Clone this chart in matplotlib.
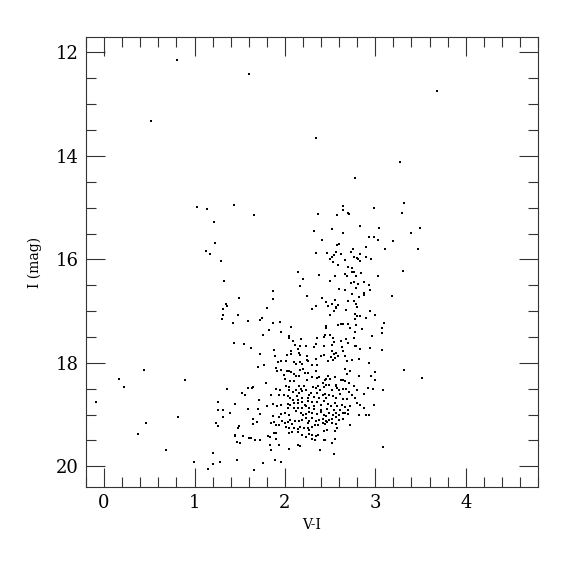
import matplotlib
matplotlib.use("Agg")
import matplotlib.pyplot as plt
from matplotlib.ticker import MultipleLocator

# colour (V-I) and magnitude (I) of each star
vi_bright = [0.81, 0.515, 1.60, 2.34, 2.78, 3.68, 3.27]
i_bright = [12.15, 13.33, 12.41, 13.66, 14.42, 12.74, 14.12]

# blue branch (upper left)
vi_blue = [1.03, 1.14, 1.44, 1.215, 1.23, 1.13, 1.17, 1.29, 1.33, 1.35, 1.36, 1.32, 1.31, 1.30, 1.43]
i_blue = [14.99, 15.02, 14.95, 15.27, 15.69, 15.84, 15.90, 16.04, 16.41, 16.87, 16.91, 16.95, 17.08, 17.15, 17.22]

# giant branch, middle region
vi_giant = [1.66, 2.64, 2.64, 2.99, 2.37, 2.58, 2.70, 2.71, 2.52, 2.32, 2.64, 2.83, 3.04, 2.41,
            2.93, 2.99, 3.03, 2.60, 2.58, 2.75, 2.90, 3.11, 2.34, 2.47, 2.54, 2.57, 2.62, 2.73,
            2.83, 2.52, 2.50, 2.76, 2.80, 2.81, 2.90, 2.95, 2.53, 2.66, 2.83, 2.59, 2.70, 2.74,
            2.14, 2.20, 2.17, 2.38, 2.55, 2.67, 2.69, 2.74, 2.76, 2.79, 2.84, 3.03, 2.50, 2.73,
            2.76, 2.81, 2.88, 2.93, 2.79, 2.94, 2.60, 2.67, 2.24, 2.74, 2.87, 2.87, 2.82, 1.87,
            1.87, 1.49, 2.41, 2.55, 2.46, 2.52, 2.59, 2.70, 2.76, 2.79, 2.48, 2.56, 2.57, 2.34,
            2.30, 1.80, 2.80, 2.54, 2.68, 2.50, 2.77, 2.80, 2.83, 2.94, 3.00, 1.48, 1.59, 1.72,
            1.75, 1.87, 1.95, 2.07, 1.82, 1.96, 2.90, 2.62, 2.64, 2.70, 2.59, 2.77, 2.79, 2.46,
            2.45, 2.72, 2.85, 3.10, 3.07, 3.07, 2.77, 1.76, 2.04, 2.44, 2.50, 2.96,
            3.32, 3.30, 3.49, 3.39, 3.20, 3.47, 3.31, 3.19]
i_giant = [15.15, 14.96, 15.04, 15.00, 15.12, 15.14, 15.11, 15.12, 15.41, 15.45, 15.48, 15.36, 15.40, 15.63,
           15.56, 15.56, 15.63, 15.70, 15.73, 15.79, 15.76, 15.79, 15.87, 15.88, 15.91, 15.86, 15.89, 15.86,
           15.90, 15.96, 16.00, 15.96, 15.97, 15.99, 15.96, 16.00, 16.05, 16.02, 16.04, 16.11, 16.14, 16.17,
           16.24, 16.38, 16.52, 16.30, 16.33, 16.28, 16.33, 16.25, 16.24, 16.32, 16.26, 16.33, 16.41, 16.46,
           16.43, 16.47, 16.43, 16.49, 16.56, 16.59, 16.57, 16.60, 16.70, 16.66, 16.65, 16.69, 16.73, 16.61,
           16.77, 16.75, 16.75, 16.78, 16.83, 16.86, 16.88, 16.80, 16.81, 16.86, 16.91, 16.92, 16.94, 16.91,
           16.95, 16.94, 16.92, 16.99, 16.97, 17.07, 17.06, 17.09, 17.10, 17.00, 17.07, 17.07, 17.20, 17.18,
           17.14, 17.23, 17.21, 17.30, 17.36, 17.40, 17.13, 17.24, 17.24, 17.24, 17.27, 17.15, 17.26, 17.29,
           17.33, 17.32, 17.34, 17.23, 17.33, 17.42, 17.41, 17.47, 17.48, 17.47, 17.47, 17.48,
           14.90, 15.11, 15.40, 15.48, 15.64, 15.80, 16.22, 16.70]

# faint stars on the left and lower left
vi_left = [1.44, 0.44, 0.17, 0.22, 0.89, -0.09, 1.36, 1.26, 1.45, 1.26, 1.32, 1.39, 1.31, 0.82,
           1.24, 1.26, 0.46, 0.38, 1.45, 0.69, 1.21, 0.99, 1.28, 1.20, 1.15, 3.32, 3.52]
i_left = [17.62, 18.14, 18.32, 18.47, 18.34, 18.76, 18.51, 18.76, 18.80, 18.91, 18.91, 18.96, 19.05, 19.04,
          19.17, 19.22, 19.17, 19.38, 19.42, 19.68, 19.74, 19.91, 19.91, 19.96, 20.05, 18.13, 18.29]

# main clump, upper left quarter
vi_c1 = [1.55, 1.62, 1.72, 1.88, 1.89, 2.05, 2.09, 2.18, 2.11, 2.14, 2.17, 2.23, 2.02, 2.07, 2.07,
         2.16, 2.17, 2.24, 1.96, 1.92, 2.01, 2.10, 2.12, 2.17, 2.19, 2.24, 2.26, 1.70, 1.77, 1.90,
         1.91, 1.96, 2.02, 2.04, 2.07, 2.10, 2.17, 2.20, 2.22, 2.26, 1.99, 2.00, 2.12, 2.16, 2.24,
         2.06, 2.10, 1.79, 1.59, 1.64, 1.65, 1.90, 1.95, 2.01, 2.04, 2.05, 2.09, 2.12, 2.16, 2.18,
         2.21, 2.23, 2.19, 2.16, 1.52, 1.56, 1.85, 1.94, 1.99, 2.03, 2.06, 2.09, 2.13, 2.14, 2.19,
         2.25, 2.27, 1.71, 1.87, 1.91, 1.96, 2.03, 2.06, 2.10, 2.15, 2.19, 2.22, 2.26, 1.80, 1.59,
         1.70, 2.03, 2.10, 2.14, 2.19, 2.23, 2.27]
i_c1 = [17.64, 17.72, 17.82, 17.75, 17.87, 17.51, 17.57, 17.53, 17.65, 17.73, 17.68, 17.67, 17.85, 17.82, 17.77,
        17.80, 17.84, 17.86, 17.96, 17.98, 17.97, 17.99, 18.02, 17.99, 18.02, 17.94, 17.96, 18.08, 18.04, 18.09,
        18.16, 18.13, 18.16, 18.15, 18.18, 18.21, 18.14, 18.11, 18.20, 18.20, 18.23, 18.31, 18.25, 18.26, 18.33,
        18.35, 18.36, 18.39, 18.49, 18.48, 18.47, 18.51, 18.52, 18.45, 18.47, 18.53, 18.57, 18.52, 18.44, 18.50,
        18.45, 18.53, 18.55, 18.58, 18.58, 18.62, 18.63, 18.62, 18.63, 18.65, 18.67, 18.71, 18.65, 18.72, 18.68,
        18.68, 18.63, 18.72, 18.80, 18.84, 18.82, 18.79, 18.81, 18.78, 18.78, 18.76, 18.81, 18.73, 18.84, 18.89,
        18.89, 18.88, 18.87, 18.87, 18.87, 18.84, 18.87]

# main clump, upper right quarter
vi_c2 = [2.35, 2.43, 2.53, 2.62, 2.68, 2.70, 2.76, 2.34, 2.32, 2.43, 2.52, 2.54, 2.63, 2.77, 2.79,
         2.83, 2.94, 3.07, 2.52, 2.54, 2.57, 2.59, 2.64, 2.67, 2.69, 2.51, 2.53, 2.55, 2.475, 2.43,
         2.40, 2.34, 2.30, 2.35, 2.74, 2.82, 2.93, 3.00, 2.34, 2.66, 2.69, 2.72, 2.82, 2.95, 2.30,
         2.35, 2.38, 2.45, 2.48, 2.42, 2.44, 2.50, 2.55, 2.57, 2.62, 2.64, 2.67, 2.71, 2.76, 2.80,
         2.92, 3.00, 3.08, 2.31, 2.34, 2.37, 2.39, 2.43, 2.45, 2.49, 2.52, 2.56, 2.58, 2.60, 2.64,
         2.68, 2.71, 2.74, 2.87, 2.97, 2.29, 2.32, 2.36, 2.38, 2.42, 2.44, 2.46, 2.49, 2.53, 2.57,
         2.61, 2.64, 2.69, 2.77, 2.80, 2.99, 2.30, 2.32, 2.36, 2.40, 2.43, 2.48, 2.51, 2.55, 2.58,
         2.63, 2.67, 2.72, 2.83, 2.88, 2.32, 2.40, 2.47, 2.54, 2.61, 2.70]
i_c2 = [17.51, 17.50, 17.51, 17.58, 17.54, 17.62, 17.52, 17.63, 17.70, 17.68, 17.66, 17.60, 17.69, 17.68, 17.67,
        17.73, 17.72, 17.76, 17.78, 17.82, 17.80, 17.86, 17.78, 17.87, 17.97, 17.89, 17.94, 17.91, 17.96, 17.85,
        17.87, 17.92, 18.05, 18.04, 17.94, 17.93, 18.00, 18.18, 18.16, 18.12, 18.21, 18.16, 18.25, 18.26, 18.27,
        18.29, 18.27, 18.31, 18.26, 18.38, 18.33, 18.31, 18.27, 18.42, 18.34, 18.33, 18.36, 18.39, 18.45, 18.53,
        18.48, 18.33, 18.52, 18.47, 18.49, 18.45, 18.52, 18.47, 18.43, 18.43, 18.52, 18.45, 18.49, 18.52, 18.51,
        18.51, 18.56, 18.62, 18.61, 18.50, 18.58, 18.66, 18.58, 18.68, 18.63, 18.60, 18.67, 18.62, 18.65, 18.67,
        18.60, 18.70, 18.69, 18.68, 18.78, 18.81, 18.76, 18.83, 18.76, 18.81, 18.74, 18.79, 18.84, 18.78, 18.84,
        18.81, 18.85, 18.84, 18.81, 18.87, 18.89, 18.91, 18.89, 18.91, 18.91, 18.91]

# main clump, lower left quarter
vi_c3 = [1.72, 1.87, 1.93, 1.96, 2.00, 2.04, 2.12, 2.18, 2.20, 2.23, 2.27, 1.65, 1.49, 1.48, 1.65,
         1.69, 1.85, 1.88, 1.90, 1.94, 1.97, 2.00, 2.03, 2.06, 2.08, 2.11, 2.16, 2.19, 2.23, 2.25,
         2.27, 2.01, 2.04, 2.10, 2.14, 2.17, 2.21, 2.25, 2.27, 2.04, 2.08, 2.15, 2.19, 2.23, 2.27,
         1.45, 1.54, 1.60, 1.62, 1.67, 1.72, 1.81, 1.83, 1.88, 1.90, 1.90, 1.94, 1.84, 1.85, 2.05,
         2.14, 2.17, 1.47, 1.50, 1.47, 1.76, 1.89, 1.96, 1.66]
i_c3 = [18.98, 19.02, 19.05, 18.99, 18.96, 19.00, 18.94, 18.96, 19.01, 18.98, 18.95, 19.09, 19.22, 19.25, 19.19,
        19.14, 19.17, 19.15, 19.21, 19.21, 19.13, 19.16, 19.14, 19.10, 19.18, 19.13, 19.13, 19.10, 19.07, 19.16,
        19.12, 19.23, 19.26, 19.25, 19.27, 19.23, 19.26, 19.25, 19.29, 19.36, 19.34, 19.34, 19.39, 19.44, 19.37,
        19.40, 19.41, 19.45, 19.45, 19.50, 19.49, 19.42, 19.44, 19.35, 19.35, 19.48, 19.58, 19.58, 19.68, 19.66,
        19.59, 19.61, 19.53, 19.55, 19.87, 19.93, 19.88, 19.91, 20.07]

# main clump, lower right quarter
vi_c4 = [2.30, 2.35, 2.40, 2.43, 2.46, 2.49, 2.53, 2.56, 2.60, 2.64, 2.67, 2.70, 2.82, 2.90, 2.93,
         2.30, 2.34, 2.38, 2.42, 2.45, 2.49, 2.52, 2.56, 2.60, 2.64, 2.30, 2.33, 2.37, 2.42, 2.44,
         2.47, 2.52, 2.56, 2.58, 2.72, 2.43, 2.47, 2.55, 2.30, 2.34, 2.37, 2.30, 2.33, 2.43, 2.44,
         2.55, 2.52, 3.08, 2.39, 2.54]
i_c4 = [18.96, 18.99, 18.95, 19.01, 19.03, 18.97, 19.00, 18.97, 19.01, 18.97, 18.96, 18.99, 19.01, 19.01, 19.00,
        19.07, 19.13, 19.10, 19.08, 19.12, 19.10, 19.08, 19.05, 19.10, 19.08, 19.23, 19.20, 19.21, 19.16, 19.18,
        19.14, 19.16, 19.19, 19.25, 19.21, 19.31, 19.29, 19.31, 19.40, 19.42, 19.39, 19.48, 19.49, 19.49, 19.50,
        19.47, 19.54, 19.63, 19.68, 19.77]

vi = vi_bright + vi_blue + vi_giant + vi_left + vi_c1 + vi_c2 + vi_c3 + vi_c4
mag = i_bright + i_blue + i_giant + i_left + i_c1 + i_c2 + i_c3 + i_c4

plt.rcParams['font.family'] = ['DejaVu Serif']

fig = plt.figure(figsize=(5.75, 5.75), dpi=100)
ax = fig.add_axes([0.1496, 0.153, 0.7861, 0.7827])

ax.plot(vi, mag, linestyle='none', marker='s', markersize=1.9, markeredgewidth=0, color='black')

ax.set_xlim(-0.2, 4.8)
ax.set_ylim(20.4, 11.7)

ax.xaxis.set_major_locator(MultipleLocator(1))
ax.xaxis.set_minor_locator(MultipleLocator(0.2))
ax.yaxis.set_major_locator(MultipleLocator(2))
ax.yaxis.set_minor_locator(MultipleLocator(0.5))

ax.tick_params(which='both', direction='in', top=True, right=True, width=0.8, colors='#333333', labelcolor='black')
ax.tick_params(which='major', length=13.5, labelsize=13, pad=5)
ax.tick_params(which='minor', length=7)
for s in ax.spines.values():
    s.set_linewidth(0.8)
    s.set_color('#333333')

ax.set_xlabel('V-I', fontsize=10, labelpad=4)
ax.set_ylabel('I (mag)', fontsize=10, labelpad=10)

fig.savefig('out.png', dpi=100)
